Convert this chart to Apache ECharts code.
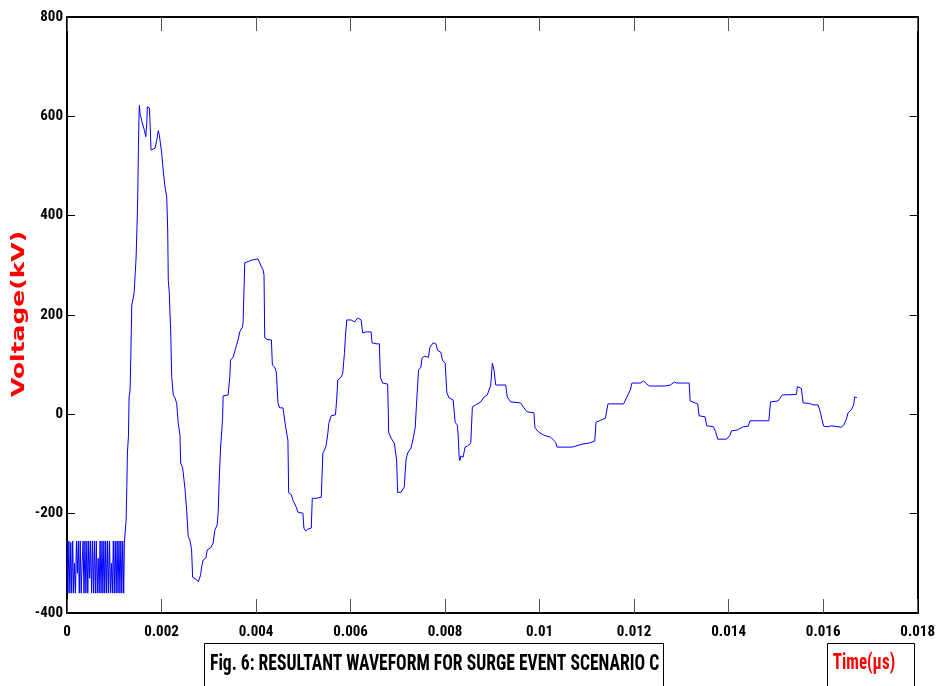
<!DOCTYPE html>
<html>
<head>
<meta charset="utf-8">
<script src="https://cdn.jsdelivr.net/npm/echarts@6/dist/echarts.min.js"></script>
<style>html,body{margin:0;padding:0;background:#fff;}#c{width:938px;height:686px;}</style>
</head>
<body>
<div id="c"></div>
<script>
// ---- data ----
const xTicks = [0, 0.002, 0.004, 0.006, 0.008, 0.01, 0.012, 0.014, 0.016, 0.018];
const yTicks = [-400, -200, 0, 200, 400, 600, 800];

const noiseTime = [0.00000,0.00002,0.00004,0.00006,0.00008,0.00010,0.00012,0.00014,0.00016,0.00018,
  0.00020,0.00022,0.00024,0.00026,0.00028,0.00030,0.00032,0.00034,0.00036,0.00038,
  0.00040,0.00042,0.00044,0.00046,0.00048,0.00050,0.00052,0.00054,0.00056,0.00058,
  0.00060,0.00062,0.00064,0.00066,0.00068,0.00070,0.00072,0.00074,0.00076,0.00078,
  0.00080,0.00082,0.00084,0.00086,0.00088,0.00090,0.00092,0.00094,0.00096,0.00098,
  0.00100,0.00102,0.00104,0.00106,0.00108,0.00110,0.00112,0.00114,0.00116,0.00118,0.00120];
const noiseVolt = [-255,-360,-255,-360,-258,-360,-255,-360,-300,-360,
  -255,-320,-255,-360,-255,-360,-300,-255,-360,-255,
  -360,-255,-360,-255,-330,-255,-360,-255,-360,-255,
  -360,-255,-360,-290,-360,-255,-360,-255,-360,-255,
  -360,-255,-360,-255,-360,-255,-360,-300,-360,-255,
  -360,-255,-360,-255,-360,-255,-360,-255,-360,-255,-360];

const waveTime = [0.001215,0.001230,0.001251,0.001266,0.001278,0.001300,0.001314,0.001335,0.001350,0.001371,
0.001392,0.001420,0.001441,0.001462,0.001489,0.001498,0.001511,0.001525,0.001532,0.001546,
0.001568,0.001582,0.001616,0.001637,0.001667,0.001688,0.001700,0.001743,0.001757,0.001778,
0.001814,0.001863,0.001899,0.001932,0.001954,0.001983,0.002004,0.002038,0.002074,0.002110,
0.002131,0.002143,0.002165,0.002179,0.002194,0.002215,0.002249,0.002285,0.002321,0.002354,
0.002390,0.002405,0.002447,0.002475,0.002496,0.002532,0.002565,0.002601,0.002637,0.002658,
0.002728,0.002776,0.002827,0.002848,0.002882,0.002939,0.002966,0.003038,0.003093,0.003129,
0.003177,0.003198,0.003219,0.003249,0.003276,0.003291,0.003304,0.003409,0.003445,0.003460,
0.003515,0.003551,0.003586,0.003620,0.003656,0.003713,0.003726,0.003762,0.003776,0.003867,
0.003937,0.004042,0.004078,0.004114,0.004148,0.004169,0.004184,0.004253,0.004325,0.004346,
0.004395,0.004430,0.004464,0.004500,0.004570,0.004605,0.004627,0.004654,0.004675,0.004690,
0.004747,0.004781,0.004816,0.004852,0.004886,0.004922,0.004992,0.005013,0.005049,0.005097,
0.005169,0.005190,0.005274,0.005380,0.005414,0.005449,0.005485,0.005519,0.005540,0.005591,
0.005681,0.005709,0.005730,0.005802,0.005835,0.005871,0.005892,0.005920,0.006013,0.006082,
0.006152,0.006224,0.006257,0.006329,0.006435,0.006456,0.006540,0.006610,0.006631,0.006679,
0.006785,0.006800,0.006806,0.006857,0.006926,0.006975,0.006996,0.007068,0.007137,0.007173,
0.007207,0.007278,0.007327,0.007369,0.007397,0.007439,0.007489,0.007511,0.007559,0.007650,
0.007679,0.007749,0.007806,0.007840,0.007911,0.007945,0.008002,0.008038,0.008086,0.008171,
0.008213,0.008262,0.008283,0.008297,0.008312,0.008333,0.008382,0.008424,0.008473,0.008544,
0.008578,0.008650,0.008755,0.008825,0.008894,0.008966,0.009000,0.009036,0.009072,0.009283,
0.009316,0.009388,0.009599,0.009669,0.009738,0.009880,0.009901,0.009985,0.010091,0.010232,
0.010338,0.010371,0.010688,0.010759,0.010899,0.011040,0.011167,0.011194,0.011287,0.011392,
0.011447,0.011778,0.011848,0.011920,0.011954,0.012131,0.012200,0.012270,0.012321,0.012658,
0.012764,0.012854,0.012903,0.013165,0.013186,0.013291,0.013346,0.013376,0.013502,0.013536,
0.013677,0.013726,0.013768,0.013958,0.014030,0.014063,0.014169,0.014205,0.014310,0.014416,
0.014451,0.014852,0.014886,0.015049,0.015133,0.015175,0.015435,0.015456,0.015540,0.015576,
0.015717,0.015787,0.015892,0.015928,0.015977,0.016013,0.016104,0.016173,0.016384,0.016435,
0.016490,0.016526,0.016596,0.016646,0.016667,0.016716];
const waveVolt = [-258,-239,-213,-146,-78,-45,35,49,116,220,
230,244,280,315,405,446,538,606,622,606,
597,591,591,572,559,586,619,617,589,532,
536,536,552,571,562,559,526,488,458,438,
371,270,244,204,170,76,39,33,22,-18,
-42,-98,-108,-112,-149,-194,-246,-253,-273,-328,
-332,-337,-324,-307,-293,-289,-273,-269,-259,-233,
-223,-199,-138,-68,-66,-11,37,39,75,109,
115,115,139,150,166,176,186,305,307,309,
311,313,311,297,291,280,154,150,150,99,
95,85,23,13,13,9,-26,-28,-52,-158,
-162,-173,-177,-187,-197,-199,-199,-229,-235,-231,
-229,-169,-169,-167,-78,-72,-62,-38,-18,-3,
-1,33,69,75,83,124,156,190,190,186,
194,190,164,166,166,144,142,142,75,63,
61,-1,-36,-48,-58,-92,-157,-157,-146,-92,
-78,-68,-48,-26,23,89,95,113,117,115,
135,144,142,129,125,109,103,43,33,29,
-16,-22,-52,-86,-93,-84,-86,-66,-64,-58,
15,19,25,35,39,59,103,89,59,59,
35,25,23,13,5,3,-27,-36,-42,-46,
-56,-66,-66,-64,-60,-58,-54,-16,-12,-8,
21,21,35,49,63,63,67,61,57,57,
59,65,63,63,27,23,21,-3,-5,-23,
-25,-35,-50,-50,-42,-33,-32,-28,-25,-24,
-13,-13,25,27,39,40,40,56,52,23,
22,19,19,9,-11,-24,-25,-23,-26,-22,
-10,3,9,19,35,34];

const captionText = 'Fig. 6: RESULTANT WAVEFORM FOR SURGE EVENT SCENARIO C';
const xName = 'Time(µs)';
const yName = 'Voltage(kV)';

// ---- build ----
const seriesData = [];
noiseTime.forEach((t, i) => seriesData.push([t, noiseVolt[i]]));
waveTime.forEach((t, i) => seriesData.push([t, waveVolt[i]]));

const narrow = "'Liberation Sans Narrow', 'Roboto Condensed', 'DejaVu Sans Condensed', 'Arial Narrow', sans-serif";

const chart = echarts.init(document.getElementById('c'), null, {renderer: 'canvas'});
const xBase = {
  type: 'value', min: 0, max: 0.018, interval: 0.002,
  splitLine: {show: false},
  axisLine: {show: true, onZero: false, lineStyle: {color: '#000', width: 2}},
  axisTick: {show: true, inside: true, length: 14, lineStyle: {color: '#555', width: 1}}
};
const yBase = {
  type: 'value', min: -400, max: 800, interval: 200,
  splitLine: {show: false},
  axisLine: {show: true, onZero: false, lineStyle: {color: '#000', width: 2}},
  axisTick: {show: true, inside: true, length: 8, lineStyle: {color: '#000', width: 1}}
};
chart.setOption({
  animation: false,
  backgroundColor: '#fff',
  grid: {left: 67, right: 18, top: 17, bottom: 73, containLabel: false},
  xAxis: [
    Object.assign({}, xBase, {position: 'bottom',
      axisLabel: {show: true, margin: 12, color: '#000', fontFamily: narrow, fontWeight: 'bold', fontSize: 15,
        formatter: v => { const s = xTicks.find(t => Math.abs(t - v) < 1e-9); return String(s === undefined ? v : s); }}}),
    Object.assign({}, xBase, {position: 'top', axisLabel: {show: false}})
  ],
  yAxis: [
    Object.assign({}, yBase, {position: 'left',
      axisLabel: {show: true, margin: 4, color: '#000', fontFamily: narrow, fontWeight: 'bold', fontSize: 15,
        formatter: v => String(yTicks.find(t => t === v))}}),
    Object.assign({}, yBase, {position: 'right', axisLabel: {show: false}})
  ],
  series: [{
    type: 'line', xAxisIndex: 0, yAxisIndex: 0,
    data: seriesData, showSymbol: false, symbol: 'none',
    lineStyle: {color: '#0000ff', width: 1}, silent: true
  }],
  graphic: [
    {type: 'text', x: 20, y: 314, rotation: Math.PI / 2, scaleX: 1.47, scaleY: 1,
      style: {text: yName, fill: '#ff0000', font: "bold 17px 'DejaVu Sans', Verdana, sans-serif", textVerticalAlign: 'middle', textAlign: 'center'}},
    {type: 'rect', shape: {x: 204.5, y: 643.5, width: 459, height: 60}, style: {fill: 'none', stroke: '#000', lineWidth: 1}},
    {type: 'text', x: 210, y: 664, scaleX: 1, scaleY: 1.25, style: {text: captionText, fill: '#000', font: "bold 17.6px " + narrow, textVerticalAlign: 'middle', textAlign: 'left'}},
    {type: 'rect', shape: {x: 827.5, y: 643.5, width: 87, height: 60}, style: {fill: 'none', stroke: '#000', lineWidth: 1}},
    {type: 'text', x: 864, y: 664, scaleX: 1, scaleY: 1.25, style: {text: xName, fill: '#ff0000', font: "bold 17px " + narrow, textVerticalAlign: 'middle', textAlign: 'center'}}
  ]
});
</script>
</body>
</html>
